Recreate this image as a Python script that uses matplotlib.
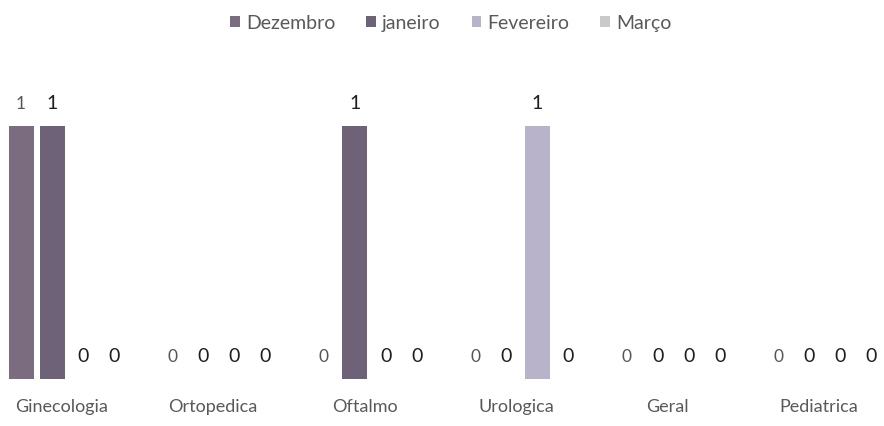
import matplotlib
matplotlib.use("Agg")
import matplotlib.pyplot as plt
import numpy as np

categories = ["Ginecologia", "Ortopedica", "Oftalmo", "Urologica", "Geral", "Pediatrica"]
series_names = ["Dezembro", "janeiro", "Fevereiro", "Março"]
dezembro = [1, 0, 0, 0, 0, 0]
janeiro = [1, 0, 1, 0, 0, 0]
fevereiro = [0, 0, 0, 1, 0, 0]
marco = [0, 0, 0, 0, 0, 0]
series = [dezembro, janeiro, fevereiro, marco]
colors = ["#7b6c7f", "#6d6277", "#b8b2ca", "#c9c9c9"]
label_sizes = [12.5, 14, 14, 14]
label_colors = ["#555555", "#1e1e1e", "#1e1e1e", "#1e1e1e"]

plt.rcParams['font.family'] = ['Lato', 'DejaVu Sans']

fig = plt.figure(figsize=(8.84, 4.27), dpi=100)
W, H = 884, 427
base_px = 380
unit_px = 253
ax = fig.add_axes([0, (H - base_px) / H, 1, 1.2 * unit_px / H])

spacing = 151.5
c0 = 67.5
ax.set_xlim(-c0 / spacing, (W - c0) / spacing)
ax.set_ylim(0, 1.2)

x = np.arange(len(categories))
bw = 25 / spacing
step = 31 / spacing
offsets = (np.arange(4) - 1.5) * step
for i, (vals, name, col) in enumerate(zip(series, series_names, colors)):
    ax.bar(x + offsets[i], vals, bw, color=col, label=name)
    for xi, v in zip(x + offsets[i], vals):
        ax.annotate(f"{v}", (xi, v), xytext=(0, 11), textcoords="offset points",
                    ha="center", va="bottom", fontsize=label_sizes[i],
                    color=label_colors[i])

ax.set_xticks(x - 6 / spacing)
ax.set_xticklabels(categories, fontsize=13, color="#595959")
ax.tick_params(axis="x", length=0, pad=14)
ax.set_yticks([])
for s in ax.spines.values():
    s.set_visible(False)

leg = fig.legend(loc="upper center", bbox_to_anchor=(0.51, 1.005), ncol=4, frameon=False,
                 fontsize=14, handlelength=0.5, handleheight=0.5, handletextpad=0.3,
                 columnspacing=1.6)
for t in leg.get_texts():
    t.set_color("#595959")

fig.savefig("out.png", dpi=100)
